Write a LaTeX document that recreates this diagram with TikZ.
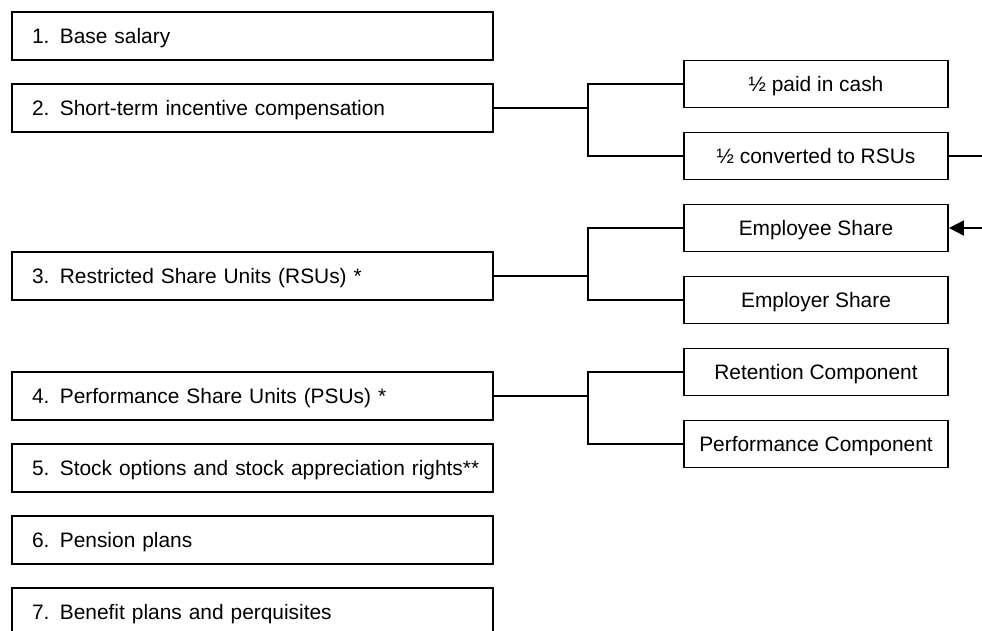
\documentclass[tikz,border=0pt]{standalone}
\usepackage{fontspec}
\setmainfont{Liberation Sans}
\usetikzlibrary{arrows.meta}
\begin{document}
\begin{tikzpicture}[x=1pt,y=-1pt,line width=1.8pt,
  every node/.style={font=\fontsize{20.9}{25}\selectfont},
  leftbox/.style={draw, rectangle, minimum width=481pt, minimum height=48pt,
    text width=461pt, align=left, inner xsep=10pt, inner ysep=0pt,
    text height=15pt, text depth=0pt},
  rightbox/.style={draw, rectangle, minimum width=264pt, minimum height=47pt,
    inner sep=0pt, text height=15pt, text depth=0pt},
  conn/.style={line width=1.8pt},
  arr/.style={line width=1.8pt, -{Triangle[length=15pt,width=15pt]}}]
\clip (0,0) rectangle (982,630);
\fill[white] (0,0) rectangle (982,630);
% left column
\node[leftbox] (b1) at (252.5,36) {\hspace*{10pt}1. Base salary};
\node[leftbox] (b2) at (252.5,108) {\hspace*{10pt}2. Short-term incentive compensation};
\node[leftbox] (b3) at (252.5,276) {\hspace*{10pt}3. Restricted Share Units (RSUs) *};
\node[leftbox] (b4) at (252.5,396) {\hspace*{10pt}4. Performance Share Units (PSUs) *};
\node[leftbox] (b5) at (252.5,468) {\hspace*{10pt}5. Stock options and stock appreciation rights**};
\node[leftbox] (b6) at (252.5,540) {\hspace*{10pt}6. Pension plans};
\node[leftbox] (b7) at (252.5,612) {\hspace*{10pt}7. Benefit plans and perquisites};
% right column
\node[rightbox] (cash) at (816,84) {½ paid in cash};
\node[rightbox] (conv) at (816,156) {½ converted to RSUs};
\node[rightbox] (emp) at (816,228) {Employee Share};
\node[rightbox] (empr) at (816,300) {Employer Share};
\node[rightbox] (ret) at (816,372) {Retention Component};
\node[rightbox] (perf) at (816,444) {Performance Component};
% junctions
\coordinate (j2) at (588,108);
\coordinate (j3) at (588,276);
\coordinate (j4) at (588,396);
\coordinate (out) at (982,156);
\coordinate (in) at (982,228);
% connectors
\draw[conn] (b2.east) -- (j2) |- (cash.west);
\draw[conn] (j2) |- (conv.west);
\draw[conn] (b3.east) -- (j3) |- (emp.west);
\draw[conn] (j3) |- (empr.west);
\draw[conn] (b4.east) -- (j4) |- (ret.west);
\draw[conn] (j4) |- (perf.west);
\draw[conn] (conv.east) -- (out);
\draw[arr] (in) -- (emp.east);
\end{tikzpicture}
\end{document}
